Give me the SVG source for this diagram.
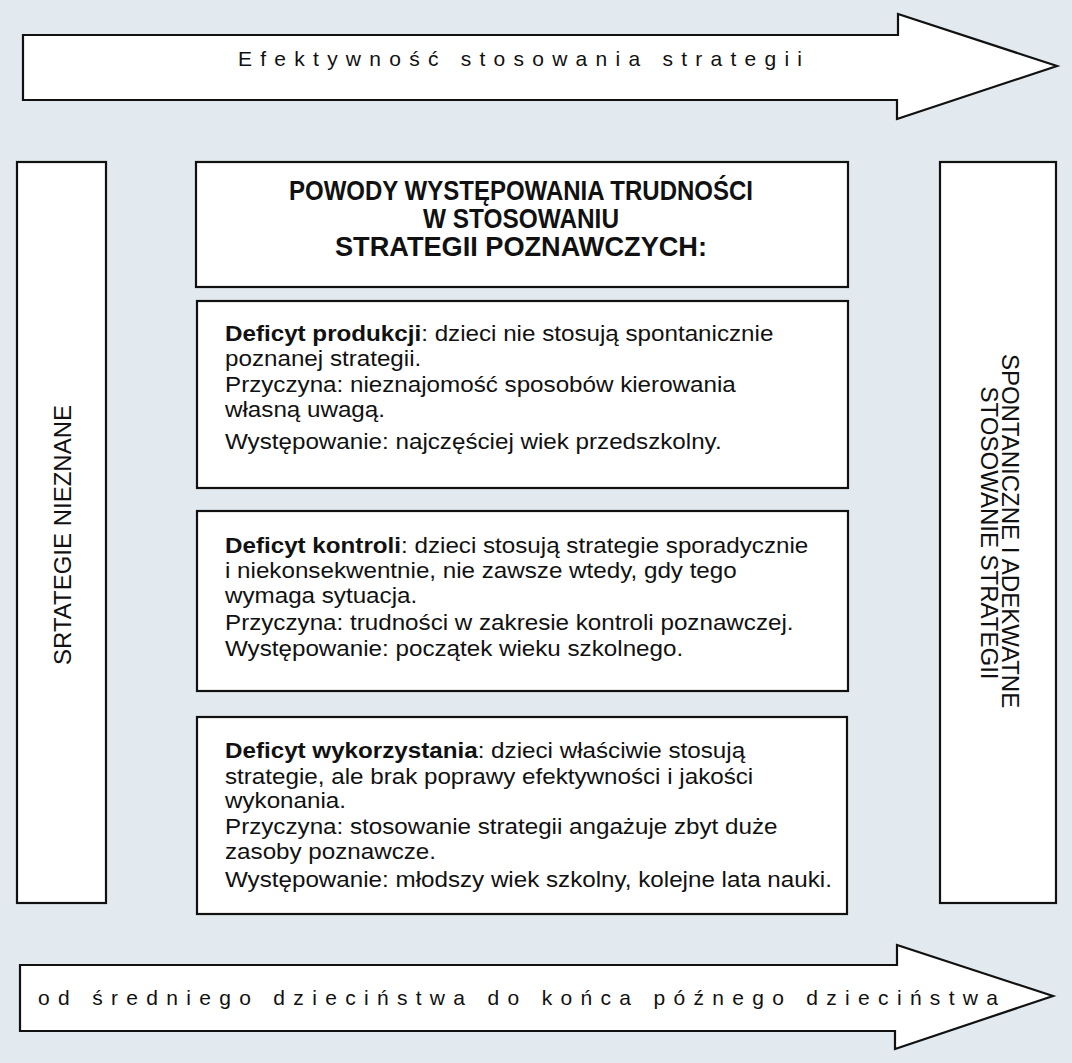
<svg xmlns="http://www.w3.org/2000/svg" width="1072" height="1063" viewBox="0 0 1072 1063">
<style>
.box{fill:#ffffff;stroke:#111;stroke-width:2.2}
.arrow{fill:#ffffff;stroke:#111;stroke-width:2.2;stroke-linejoin:miter}
.body{font-family:"Liberation Sans",Arial,sans-serif;font-size:22px;fill:#111}
.hdr{font-family:"Liberation Sans",Arial,sans-serif;font-size:27px;font-weight:bold;fill:#111}
.arr{font-family:"Liberation Sans",Arial,sans-serif;font-size:21px;fill:#111}
.side{font-family:"Liberation Sans",Arial,sans-serif;font-size:24px;fill:#111}
.b{font-weight:bold}
</style>
<rect x="0" y="0" width="1072" height="1063" fill="#e3eaef"/>
<g id="connectors">
<g id="arrow-top">
<polygon class="arrow" points="23,35 898,35 898,14 1057,66 897,119 897,100 23,100"/>
<text class="arr" x="238" y="66" textLength="564" lengthAdjust="spacing">Efektywność stosowania strategii</text>
</g>
<g id="arrow-bottom">
<polygon class="arrow" points="20,965 897,965 897,945 1053,996 895,1049 895,1031 20,1031"/>
<text class="arr" x="38" y="1005" textLength="960" lengthAdjust="spacing">od średniego dzieciństwa do końca późnego dzieciństwa</text>
</g>
</g>
<g id="left-box">
<rect class="box" x="17" y="162" width="89" height="741"/>
<text class="side" transform="translate(71,535) rotate(-90)" text-anchor="middle">SRTATEGIE NIEZNANE</text>
</g>
<g id="right-box">
<rect class="box" x="940" y="162" width="116" height="741"/>
<text class="side" transform="translate(1002,531) rotate(90)" text-anchor="middle">SPONTANICZNE I ADEKWATNE</text>
<text class="side" transform="translate(981,533) rotate(90)" text-anchor="middle">STOSOWANIE STRATEGII</text>
</g>
<g id="header">
<rect class="box" x="196" y="162" width="652" height="125"/>
<text class="hdr" x="521" y="200" text-anchor="middle" textLength="464" lengthAdjust="spacingAndGlyphs">POWODY WYSTĘPOWANIA TRUDNOŚCI</text>
<text class="hdr" x="521" y="228" text-anchor="middle" textLength="196" lengthAdjust="spacingAndGlyphs">W STOSOWANIU</text>
<text class="hdr" x="521" y="256" text-anchor="middle" textLength="372" lengthAdjust="spacingAndGlyphs">STRATEGII POZNAWCZYCH:</text>
</g>
<g id="deficyt-produkcji">
<rect class="box" x="197" y="301" width="651" height="187"/>
<g transform="translate(225,0) scale(1.1,1)">
<text class="body" x="0" y="341"><tspan class="b">Deficyt produkcji</tspan>: dzieci nie stosują spontanicznie</text>
<text class="body" x="0" y="366">poznanej strategii.</text>
<text class="body" x="0" y="392">Przyczyna: nieznajomość sposobów kierowania</text>
<text class="body" x="0" y="417">własną uwagą.</text>
<text class="body" x="0" y="449">Występowanie: najczęściej wiek przedszkolny.</text>
</g>
</g>
<g id="deficyt-kontroli">
<rect class="box" x="197" y="511" width="651" height="180"/>
<g transform="translate(225,0) scale(1.1,1)">
<text class="body" x="0" y="553"><tspan class="b">Deficyt kontroli</tspan>: dzieci stosują strategie sporadycznie</text>
<text class="body" x="0" y="578">i niekonsekwentnie, nie zawsze wtedy, gdy tego</text>
<text class="body" x="0" y="603">wymaga sytuacja.</text>
<text class="body" x="0" y="630">Przyczyna: trudności w zakresie kontroli poznawczej.</text>
<text class="body" x="0" y="656">Występowanie: początek wieku szkolnego.</text>
</g>
</g>
<g id="deficyt-wykorzystania">
<rect class="box" x="197" y="717" width="650" height="197"/>
<g transform="translate(225,0) scale(1.1,1)">
<text class="body" x="0" y="758"><tspan class="b">Deficyt wykorzystania</tspan>: dzieci właściwie stosują</text>
<text class="body" x="0" y="784">strategie, ale brak poprawy efektywności i jakości</text>
<text class="body" x="0" y="808">wykonania.</text>
<text class="body" x="0" y="834">Przyczyna: stosowanie strategii angażuje zbyt duże</text>
<text class="body" x="0" y="859">zasoby poznawcze.</text>
<text class="body" x="0" y="887">Występowanie: młodszy wiek szkolny, kolejne lata nauki.</text>
</g>
</g>
</svg>
